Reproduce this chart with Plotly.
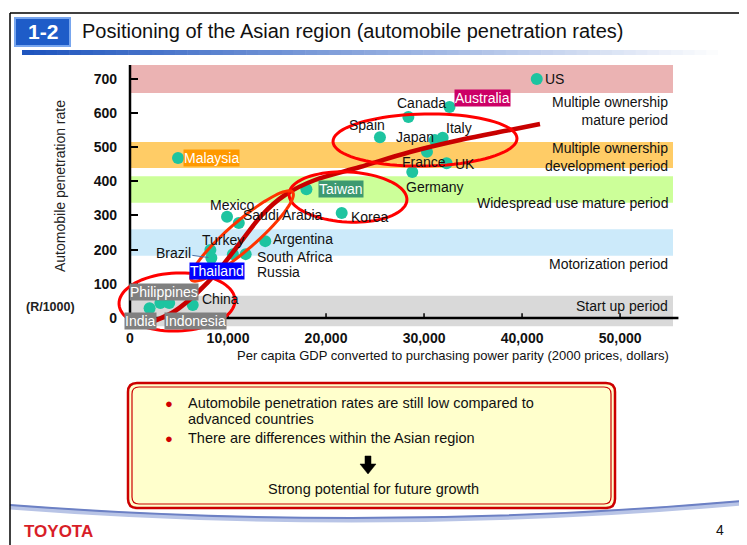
import math
import plotly.graph_objects as go

# ---------------- data ----------------
countries = ["US", "Australia", "Canada", "Spain", "Japan", "Italy", "France", "UK",
             "Germany", "Taiwan", "Korea", "Argentina", "South Africa", "Russia",
             "Saudi Arabia", "Mexico", "Turkey", "Brazil", "Malaysia", "Thailand",
             "Philippines", "Indonesia", "China", "India"]
gdp = [41500, 32600, 28400, 25500, 31100, 31900, 30300, 32300,
       28800, 18000, 21600, 13800, 11800, 10500,
       11100, 9900, 8200, 8300, 4900, 7600,
       3100, 4000, 6400, 2000]
rate = [699, 617, 588, 529, 521, 527, 486, 453,
        427, 377, 307, 225, 187, 187,
        278, 296, 199, 176, 468, 132,
        44, 44, 38, 29]

x_ticks = [0, 10000, 20000, 30000, 40000, 50000]
x_tick_text = ["0", "10,000", "20,000", "30,000", "40,000", "50,000"]
y_ticks = [0, 100, 200, 300, 400, 500, 600, 700]

period_names = ["Start up period", "Motorization period", "Widespread use mature period",
                "Multiple ownership<br>development period", "Multiple ownership<br>mature period"]
band_low = [-24, 182, 337, 439, 658]
band_high = [65, 260, 415, 515, 740]
period_label_y = [35, 158, 336, 472, 605]

# ---------------- layout geometry / styles ----------------
W, H = 747, 545          # screen size
OFF = 8                  # browser body margin
L, R, T, B = 130, 673, 65, 328   # plot area in screen pixels
X0, X1 = 0, 55400
Y0, Y1 = -29, 740
FONT = "Arial, 'Liberation Sans', sans-serif"
band_colors = ["#D9D9D9", "#CCEAFA", "#CCFF99", "#FFCC66", "#EBB3B3"]
MARK = "#1DC4A0"


def px2p(px):
    return (px - L) / (R - L)


def py2p(py):
    return (B - py) / (B - T)


def P(px, py):
    return f"{px2p(px):.5f},{py2p(py):.5f}"


def txt(text, px, py, size=14, color="#111", xanchor="center", **kw):
    d = dict(text=text, xref="paper", yref="paper", x=px2p(px), y=py2p(py), showarrow=False,
             xanchor=xanchor, yanchor="middle", font=dict(family=FONT, size=size, color=color))
    d.update(kw)
    return d


label_style = {
    # name: (xanchor, xshift, yshift, bgcolor)
    "US": ("left", 6, 0, None),
    "Australia": ("left", 4, 9, "#CC0066"),
    "Canada": ("center", 13, 14, None),
    "Spain": ("center", -13, 12, None),
    "Japan": ("right", 1, 3, None),
    "Italy": ("left", 1, 10, None),
    "France": ("center", -3, -10, None),
    "UK": ("left", 6, -1, None),
    "Germany": ("left", -8, -15, None),
    "Taiwan": ("left", 12, 0, "#3D9970"),
    "Korea": ("left", 7, -4, None),
    "Argentina": ("left", 6, 2, None),
    "South Africa": ("left", 9, -3, None),
    "Russia": ("left", 22, -18, None),
    "Saudi Arabia": ("left", 2, 8, None),
    "Mexico": ("center", 5, 12, None),
    "Turkey": ("center", 13, 10, None),
    "Malaysia": ("left", 5, 0, "#FF9900"),
    "Thailand": ("center", 13, 2, "#0000FF"),
    "Philippines": ("center", 4, 11, "#808080"),
    "Indonesia": ("center", 26, -18, "#808080"),
    "China": ("left", 7, 6, None),
    "India": ("center", -9, -13, "#808080"),
}

fig = go.Figure()
fig.add_trace(go.Scatter(x=gdp, y=rate, mode="markers", cliponaxis=False,
                         marker=dict(color=MARK, size=12, line=dict(width=0)),
                         hoverinfo="text", text=countries, showlegend=False))

shapes = []
ann = []

# bands
for lo, hi, c in zip(band_low, band_high, band_colors):
    shapes.append(dict(type="rect", xref="paper", yref="y", x0=0, x1=1, y0=lo, y1=hi,
                       fillcolor=c, line=dict(width=0), layer="below"))

# axis lines
shapes.append(dict(type="line", xref="paper", yref="y", x0=0, x1=1.01, y0=0, y1=0,
                   line=dict(color="black", width=2.5), layer="above"))
shapes.append(dict(type="line", xref="paper", yref="y", x0=0, x1=0, y0=0, y1=Y1,
                   line=dict(color="black", width=2.5), layer="above"))
for xv in x_ticks[1:]:
    shapes.append(dict(type="line", xref="x", yref="y", x0=xv, x1=xv, y0=0, y1=14,
                       line=dict(color="black", width=1.5)))

# period labels
for name, yv in zip(period_names, period_label_y):
    ann.append(dict(text=name, xref="paper", yref="y", x=px2p(670), y=yv, xanchor="right",
                    yanchor="middle", align="right", showarrow=False,
                    font=dict(family=FONT, size=14, color="#111")))

# country labels
for name, xv, yv in zip(countries, gdp, rate):
    if name == "Brazil":
        ann.append(dict(text=name, x=xv, y=yv, xref="x", yref="y", showarrow=True,
                        ax=-38, ay=-5, arrowhead=0, arrowwidth=1, arrowcolor="#4A6FA5",
                        standoff=3, font=dict(family=FONT, size=14, color="#111")))
        continue
    xa, xs, ys, bg = label_style[name]
    d = dict(text=name, x=xv, y=yv, xref="x", yref="y", showarrow=False, xanchor=xa,
             yanchor="middle", xshift=xs, yshift=ys,
             font=dict(family=FONT, size=14, color="white" if bg else "#111"))
    if bg:
        d.update(bgcolor=bg, borderpad=0)
    ann.append(d)


# hand-drawn red marks
def ellipse(cx, cy, rx, ry, ang, n=80):
    a = math.radians(ang)
    pts = []
    for i in range(n):
        t = 2 * math.pi * i / n
        ex, ey = rx * math.cos(t), ry * math.sin(t)
        pts.append((cx + ex * math.cos(a) + ey * math.sin(a),
                    cy - ex * math.sin(a) + ey * math.cos(a)))
    return "M " + " L ".join(P(*p) for p in pts) + " Z"


def smooth(pts):
    s = "M " + P(*pts[0])
    for i in range(len(pts) - 1):
        p0 = pts[max(i - 1, 0)]
        p1, p2 = pts[i], pts[i + 1]
        p3 = pts[min(i + 2, len(pts) - 1)]
        c1 = (p1[0] + (p2[0] - p0[0]) / 6, p1[1] + (p2[1] - p0[1]) / 6)
        c2 = (p2[0] - (p3[0] - p1[0]) / 6, p2[1] - (p3[1] - p1[1]) / 6)
        s += f" C {P(*c1)} {P(*c2)} {P(*p2)}"
    return s


trend = [(152, 322), (175, 311), (198, 292), (218, 271), (240, 243), (262, 215),
         (285, 195), (315, 180), (360, 167), (410, 152), (460, 140), (510, 130), (540, 124)]
shapes.append(dict(type="path", xref="paper", yref="paper", path=smooth(trend),
                   line=dict(color="#C80000", width=4.5), layer="above"))
for (cx, cy, rx, ry, ang, col) in [(425, 140, 92, 26, 1, "#FF0000"),
                                   (348, 197, 59, 25, -3, "#FF0000"),
                                   (242, 236, 67, 14, 41, "#FF3300"),
                                   (177, 302, 58, 29, 2, "#FF0000")]:
    shapes.append(dict(type="path", xref="paper", yref="paper", path=ellipse(cx, cy, rx, ry, ang),
                       line=dict(color=col, width=3), layer="above"))

# y-axis title (vertical)
ann.append(txt("Automobile penetration rate", 60, 186, size=14, color="#222", textangle=-90))
ann.append(txt("<b>(R/1000)</b>", 50, 307, size=12.5, color="#222"))
ann.append(txt("Per capita GDP converted to purchasing power parity (2000 prices, dollars)",
               453, 355, size=13))

# ---------------- slide decorations ----------------
for (a, b, c, d) in [(10, 13, 742, 13), (10, 13, 10, 545), (742, 13, 742, 545)]:
    shapes.append(dict(type="line", xref="paper", yref="paper", x0=px2p(a), y0=py2p(b),
                       x1=px2p(c), y1=py2p(d), line=dict(color="black", width=1.5)))
shapes.append(dict(type="rect", xref="paper", yref="paper", x0=px2p(15), x1=px2p(70),
                   y0=py2p(46), y1=py2p(18), fillcolor="#1E5CC8", line=dict(color="#78A6EE", width=2)))
ann.append(txt("<b>1-2</b>", 42.5, 32, size=21, color="white"))
ann.append(txt("Positioning of the Asian region (automobile penetration rates)", 80, 31,
               size=20, xanchor="left"))
nseg = 60
for i in range(nseg):
    f = i / (nseg - 1)
    r_ = int(31 + (255 - 31) * f)
    g_ = int(85 + (255 - 85) * f)
    b_ = int(190 + (255 - 190) * f)
    xa = 22 + (730 - 22) * i / nseg
    xb = 22 + (730 - 22) * (i + 1) / nseg
    shapes.append(dict(type="rect", xref="paper", yref="paper", x0=px2p(xa), x1=px2p(xb) + 0.001,
                       y0=py2p(55), y1=py2p(50), fillcolor=f"rgb({r_},{g_},{b_})", line=dict(width=0)))

shapes.append(dict(type="path", xref="paper", yref="paper",
                   path=f"M {P(10, 507)} Q {P(376, 535)} {P(742, 503)}",
                   line=dict(color="#B8C4E6", width=5), layer="below"))
shapes.append(dict(type="path", xref="paper", yref="paper",
                   path=f"M {P(10, 505)} Q {P(376, 533)} {P(742, 501)}",
                   line=dict(color="#6C80C4", width=2), layer="below"))


def rrect(x0, y0, x1, y1, r):
    return (f"M {P(x0 + r, y0)} L {P(x1 - r, y0)} Q {P(x1, y0)} {P(x1, y0 + r)} "
            f"L {P(x1, y1 - r)} Q {P(x1, y1)} {P(x1 - r, y1)} L {P(x0 + r, y1)} "
            f"Q {P(x0, y1)} {P(x0, y1 - r)} L {P(x0, y0 + r)} Q {P(x0, y0)} {P(x0 + r, y0)} Z")


shapes.append(dict(type="path", xref="paper", yref="paper", path=rrect(128, 383, 615, 508, 9),
                   fillcolor="#FFFFCC", line=dict(color="#CC0000", width=2.5)))
shapes.append(dict(type="path", xref="paper", yref="paper", path=rrect(132, 387, 611, 504, 7),
                   line=dict(color="#CC0000", width=1.2)))
for (t_, yy, bullet) in [("Automobile penetration rates are still low compared to", 403, True),
                         ("advanced countries", 419, False),
                         ("There are differences within the Asian region", 438, True)]:
    ann.append(txt(t_, 186, yy, size=14.5, xanchor="left"))
    if bullet:
        ann.append(txt("●", 169, yy, size=13, color="#D00000"))
shapes.append(dict(type="path", xref="paper", yref="paper",
                   path=(f"M {P(365, 456)} L {P(371, 456)} L {P(371, 464)} L {P(376, 464)} "
                         f"L {P(368, 474)} L {P(360, 464)} L {P(365, 464)} Z"),
                   fillcolor="black", line=dict(color="black", width=0.5)))
ann.append(txt("Strong potential for future growth", 373, 489, size=14.5))
ann.append(txt("<b>TOYOTA</b>", 22, 531, size=17, color="#D81E28", xanchor="left"))
ann.append(txt("4", 720, 530, size=14))

fig.update_layout(
    width=W - OFF, height=H - OFF,
    margin=dict(l=L - OFF, r=W - R, t=T - OFF, b=H - B, autoexpand=False),
    paper_bgcolor="white", plot_bgcolor="rgba(0,0,0,0)",
    shapes=shapes, annotations=ann, showlegend=False,
    font=dict(family=FONT),
    xaxis=dict(range=[X0, X1], tickvals=x_ticks, ticktext=x_tick_text, showgrid=False,
               zeroline=False, showline=False, ticks="",
               tickfont=dict(family=FONT, size=14, color="#111", weight="bold")),
    yaxis=dict(range=[Y0, Y1], tickvals=y_ticks, showgrid=False, zeroline=False,
               showline=False, ticks="inside", ticklen=8, tickwidth=2, tickcolor="black",
               ticklabelstandoff=12,
               tickfont=dict(family=FONT, size=14, color="#111", weight="bold")),
)
fig.write_html("out.html")
